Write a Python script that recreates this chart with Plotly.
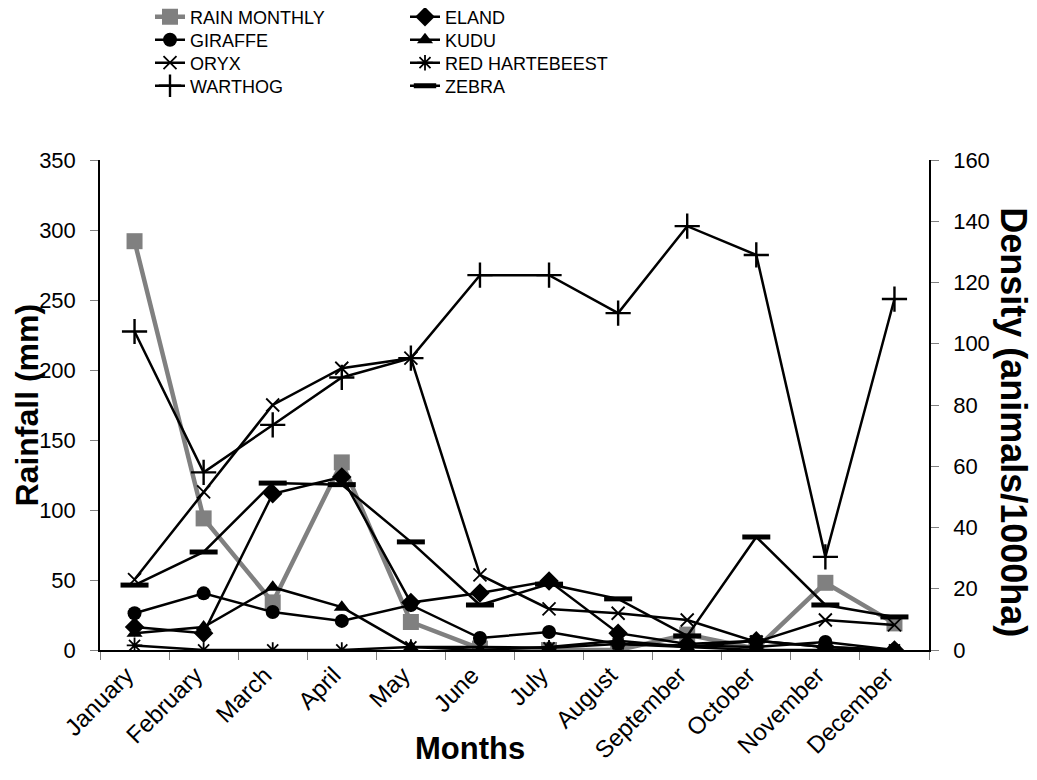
import plotly.graph_objects as go

months = ["January", "February", "March", "April", "May", "June", "July",
          "August", "September", "October", "November", "December"]

rain_monthly = [292, 94, 34, 134, 20, 1, 0, 0, 11, 1, 48, 19]
eland = [7.5, 5.5, 51, 56.5, 15.5, 18.6, 22.5, 5.5, 2, 3, 1, 0]
giraffe = [12, 18.5, 12.4, 9.5, 14.7, 3.9, 5.9, 2, 1.5, 1, 2.6, 0]
kudu = [5.5, 7.5, 20.5, 14, 1, 0, 1, 3, 1, 0, 0, 0]
oryx = [23, 51.6, 80, 92, 95.3, 24.5, 13.4, 12, 9.8, 2.6, 9.8, 8.2]
red_hartebeest = [1.5, 0, 0, 0, 1, 1, 0.7, 2, 1, 3, 1, 0]
warthog = [104, 58, 73.5, 89, 95.3, 122.4, 122.4, 110, 138.4, 129, 30.4, 114.6]
zebra = [21.2, 32, 54.5, 54, 35.3, 14.7, 21.5, 16.7, 4.6, 36.9, 14.7, 10.8]

left_ticks = [0, 50, 100, 150, 200, 250, 300, 350]
right_ticks = [0, 20, 40, 60, 80, 100, 120, 140, 160]

FONT = "Liberation Sans, Arial, sans-serif"
TICKGRAY = "#808080"
W, H = 1029, 772
L, R, T, B = 92, 108, 152, 130

fig = go.Figure()

fig.add_trace(go.Scatter(
    x=months, y=rain_monthly, name="RAIN MONTHLY", yaxis="y", legend="legend",
    mode="lines+markers", line=dict(color="#808080", width=4.5),
    marker=dict(symbol="square", size=16, color="#808080"),
))

animal_series = [
    ("ELAND", eland, "diamond", 15, 0),
    ("GIRAFFE", giraffe, "circle", 14, 0),
    ("KUDU", kudu, "triangle-up", 14, 0),
    ("ORYX", oryx, "x-thin-open", 13, 1.8),
    ("RED HARTEBEEST", red_hartebeest, "asterisk-open", 13, 1.8),
    ("WARTHOG", warthog, "cross-thin-open", 18, 2.4),
    ("ZEBRA", zebra, "line-ew-open", 20, 5),
]

for i, (name, vals, sym, size, lw) in enumerate(animal_series):
    fig.add_trace(go.Scatter(
        x=months, y=vals, name=name, yaxis="y2", legend=f"legend{i + 2}",
        mode="lines+markers", line=dict(color="black", width=2.5),
        marker=dict(symbol=sym, size=size, color="black",
                    line=dict(color="black", width=lw)),
    ))

legend_layout = {}
col_x = [142, 397]
row_y = [9, 32, 55, 78]
for i in range(8):
    key = "legend" if i == 0 else f"legend{i + 1}"
    legend_layout[key] = dict(
        x=col_x[i % 2] / W, y=1 - row_y[i // 2] / H, xref="container", yref="container",
        xanchor="left", yanchor="middle", orientation="v",
        bgcolor="rgba(0,0,0,0)", font=dict(size=18, family=FONT), itemwidth=30,
    )

PW, PH = W - L - R, H - T - B

fig.update_layout(
    width=W, height=H,
    margin=dict(l=L, r=R, t=T, b=B, autoexpand=False),
    paper_bgcolor="white", plot_bgcolor="white",
    font=dict(family=FONT, color="black", size=20),
    showlegend=True,
    xaxis=dict(
        type="category", categoryorder="array", categoryarray=months,
        range=[-0.5, 11.5], tickson="boundaries",
        ticks="outside", ticklen=8, tickcolor=TICKGRAY, tickwidth=1,
        showline=True, linecolor="black", linewidth=1.5,
        showgrid=False, zeroline=False, tickangle=-45,
        tickfont=dict(size=24, family=FONT), ticklabelshift=-8,
    ),
    xaxis2=dict(
        overlaying="x", anchor="y", side="bottom", range=[-0.5, 11.5],
        tick0=-0.5, dtick=1, ticks="inside", ticklen=9, tickcolor=TICKGRAY,
        showticklabels=False, showgrid=False, zeroline=False, showline=False,
    ),
    yaxis=dict(
        range=[0, 350], tickvals=left_ticks, ticks="outside", ticklen=8,
        tickcolor=TICKGRAY, showline=True, linecolor="black", linewidth=1.5,
        showgrid=False, zeroline=False, tickfont=dict(size=22, family=FONT),
        ticklabelstandoff=10,
    ),
    yaxis3=dict(
        overlaying="y", anchor="x", side="left", range=[0, 350],
        tickvals=left_ticks, ticks="inside", ticklen=7, tickcolor=TICKGRAY,
        showticklabels=False, showgrid=False, zeroline=False, showline=False,
    ),
    yaxis2=dict(
        overlaying="y", side="right", anchor="x", range=[0, 160],
        tickvals=right_ticks, ticks="outside", ticklen=8, tickcolor=TICKGRAY,
        showline=True, linecolor="black", linewidth=1.5, showgrid=False,
        zeroline=False, tickfont=dict(size=22, family=FONT),
        ticklabelstandoff=10,
    ),
    yaxis4=dict(
        overlaying="y", side="right", anchor="x", range=[0, 160],
        tickvals=right_ticks, ticks="inside", ticklen=7, tickcolor=TICKGRAY,
        showticklabels=False, showgrid=False, zeroline=False, showline=False,
    ),
    annotations=[
        dict(text="<b>Rainfall (mm)</b>", textangle=-90, xref="paper", yref="paper",
             x=(18.5 - L) / PW, y=0.5, xanchor="center", yanchor="middle",
             showarrow=False, font=dict(size=32, family=FONT)),
        dict(text="<b>Density (animals/1000ha)</b>", textangle=90, xref="paper",
             yref="paper", x=(1006 - L) / PW, y=0.465, xanchor="center",
             yanchor="middle", showarrow=False, font=dict(size=36, family=FONT)),
        dict(text="<b>Months</b>", xref="paper", yref="paper",
             x=(462 - L) / PW, y=(642 - 740) / PH,
             xanchor="center", yanchor="middle", showarrow=False,
             font=dict(size=31, family=FONT)),
    ],
    **legend_layout,
)

fig.write_html("out.html")
